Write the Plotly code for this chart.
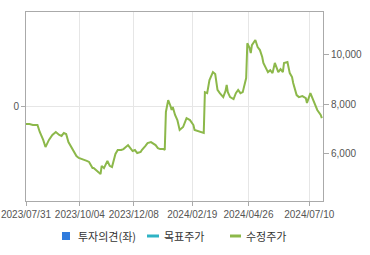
import plotly.graph_objects as go

# ---- data ----
dates = [
    "2023-07-31", "2023-08-03", "2023-08-08", "2023-08-14", "2023-08-16", "2023-08-21",
    "2023-08-23", "2023-08-28", "2023-08-31", "2023-09-05", "2023-09-08", "2023-09-12",
    "2023-09-14", "2023-09-18", "2023-09-20", "2023-09-25", "2023-09-27", "2023-09-29",
    "2023-10-03", "2023-10-06", "2023-10-10", "2023-10-12", "2023-10-16", "2023-10-19",
    "2023-10-20", "2023-10-24", "2023-10-26", "2023-10-30", "2023-10-31", "2023-11-02",
    "2023-11-07", "2023-11-09", "2023-11-13", "2023-11-16", "2023-11-20", "2023-11-23",
    "2023-11-27", "2023-11-29", "2023-12-01", "2023-12-05", "2023-12-07", "2023-12-11",
    "2023-12-13", "2023-12-18", "2023-12-19", "2023-12-22", "2023-12-26", "2023-12-29",
    "2024-01-02", "2024-01-04", "2024-01-08", "2024-01-10", "2024-01-15", "2024-01-16",
    "2024-01-17", "2024-01-19", "2024-01-23", "2024-01-24", "2024-01-25", "2024-01-29",
    "2024-01-31", "2024-02-02", "2024-02-07", "2024-02-09", "2024-02-12", "2024-02-15",
    "2024-02-20", "2024-02-21", "2024-02-26", "2024-02-29", "2024-03-04", "2024-03-05",
    "2024-03-07", "2024-03-11", "2024-03-13", "2024-03-14", "2024-03-18", "2024-03-20",
    "2024-03-22", "2024-03-27", "2024-03-29", "2024-04-01", "2024-04-02", "2024-04-04",
    "2024-04-09", "2024-04-11", "2024-04-15", "2024-04-17", "2024-04-19", "2024-04-22",
    "2024-04-24", "2024-04-25", "2024-04-29", "2024-04-30", "2024-05-01", "2024-05-06",
    "2024-05-08", "2024-05-10", "2024-05-14", "2024-05-15", "2024-05-17", "2024-05-21",
    "2024-05-23", "2024-05-27", "2024-05-29", "2024-06-03", "2024-06-05", "2024-06-07",
    "2024-06-10", "2024-06-13", "2024-06-17", "2024-06-19", "2024-06-20", "2024-06-25",
    "2024-06-27", "2024-07-02", "2024-07-05", "2024-07-08", "2024-07-11", "2024-07-16",
    "2024-07-19", "2024-07-24", "2024-07-25",
]
adj_price = [
    7190, 7190, 7150, 7150, 6870, 6550,
    6260, 6550, 6750, 6870, 6750, 6710,
    6830, 6790, 6460, 6220, 6020, 5900,
    5820, 5780, 5740, 5700, 5660, 5410,
    5410, 5330, 5250, 5170, 5500, 5410,
    5700, 5500, 5450, 5980, 6140, 6140,
    6180, 6260, 6340, 6220, 6100, 6140,
    6020, 6060, 6140, 6300, 6420, 6460,
    6380, 6340, 6220, 6180, 6180, 6140,
    7680, 8160, 7920, 7760, 7880, 7560,
    7350, 6950, 7070, 7310, 7430, 7350,
    7150, 6950, 6910, 6870, 6830, 8480,
    8440, 8970, 9170, 9290, 9210, 8570,
    8440, 8280, 8530, 8770, 8480, 8280,
    8200, 8440, 8570, 8440, 8480, 8690,
    9050, 10460, 10260, 10060, 10380, 10590,
    10300, 10180, 9900, 9660, 9500, 9290,
    9370, 9250, 9660, 9290, 9410, 9290,
    9660, 9700, 9250, 9090, 8850, 8360,
    8280, 8320, 8240, 8040, 8440, 8080,
    7760, 7560, 7430,
]
tick_dates = ["2023-07-31", "2023-10-04", "2023-12-08", "2024-02-19", "2024-04-26", "2024-07-10"]
tick_labels = ["2023/07/31", "2023/10/04", "2023/12/08", "2024/02/19", "2024/04/26", "2024/07/10"]
price_ticks = [6000, 8000, 10000]
legend_names = ["투자의견(좌)", "목표주가", "수정주가"]

GREEN = "#8CB84A"
BLUE = "#2F7BDD"
TEAL = "#2EB3C4"
GRID = "#E6E6E6"
AXIS = "#AAAAAA"
TXT = "#555555"

fig = go.Figure()
fig.add_trace(go.Bar(x=[], y=[], name=legend_names[0], marker_color=BLUE, yaxis="y"))
fig.add_trace(go.Scatter(x=[], y=[], name=legend_names[1], mode="lines",
                         line=dict(color=TEAL, width=2), yaxis="y2"))
fig.add_trace(go.Scatter(x=dates, y=adj_price, name=legend_names[2], mode="lines",
                         line=dict(color=GREEN, width=2), yaxis="y2"))

fig.update_layout(
    width=370, height=255,
    margin=dict(l=26, r=47, t=12, b=54),
    paper_bgcolor="white", plot_bgcolor="white",
    showlegend=False,
    font=dict(family="Liberation Sans, Arial, sans-serif", size=10, color=TXT),
    xaxis=dict(
        type="date",
        range=["2023-07-31", "2024-07-26"],
        rangebreaks=[dict(bounds=["sat", "mon"])],
        tickvals=tick_dates, ticktext=tick_labels,
        showgrid=True, gridcolor=GRID, gridwidth=1,
        showline=True, linecolor=AXIS, linewidth=1, mirror=True,
        ticks="outside", ticklen=4, tickcolor=AXIS,
        tickfont=dict(size=10, color=TXT),
        automargin=False, zeroline=False,
    ),
    yaxis=dict(
        range=[-1, 1], tickvals=[0], ticktext=["0"],
        showgrid=True, gridcolor=GRID, zeroline=False,
        showline=True, linecolor=AXIS, linewidth=1, mirror=True,
        ticks="outside", ticklen=4, tickcolor=AXIS,
        tickfont=dict(size=10, color=TXT),
        automargin=False, fixedrange=True,
    ),
    yaxis2=dict(
        overlaying="y", side="right",
        range=[4080, 11720], tickvals=price_ticks, tickformat=",",
        showgrid=False, zeroline=False, showline=False,
        ticks="outside", ticklen=5, tickcolor=AXIS,
        tickfont=dict(size=10, color=TXT),
        automargin=False,
    ),
)

# ---- legend drawn below the plot (paper coordinates) ----
def px_x(px):
    return (px - 26) / 297.0

def px_y(py):
    return (201 - py) / 189.0

fig.add_shape(type="rect", xref="paper", yref="paper",
              x0=px_x(62), x1=px_x(70), y0=px_y(240), y1=px_y(232),
              fillcolor=BLUE, line=dict(width=0))
fig.add_shape(type="line", xref="paper", yref="paper",
              x0=px_x(147), x1=px_x(159), y0=px_y(236), y1=px_y(236),
              line=dict(color=TEAL, width=3))
fig.add_shape(type="line", xref="paper", yref="paper",
              x0=px_x(230), x1=px_x(241), y0=px_y(236), y1=px_y(236),
              line=dict(color=GREEN, width=3))
legend_font = dict(family="Noto Sans CJK KR, sans-serif", size=11, color="#333333")
for name, left in zip(legend_names, [76, 162, 244]):
    fig.add_annotation(text=name, xref="paper", yref="paper",
                       x=px_x(left), y=px_y(236), xanchor="left", yanchor="middle",
                       showarrow=False, font=legend_font)

fig.write_html("out.html")
